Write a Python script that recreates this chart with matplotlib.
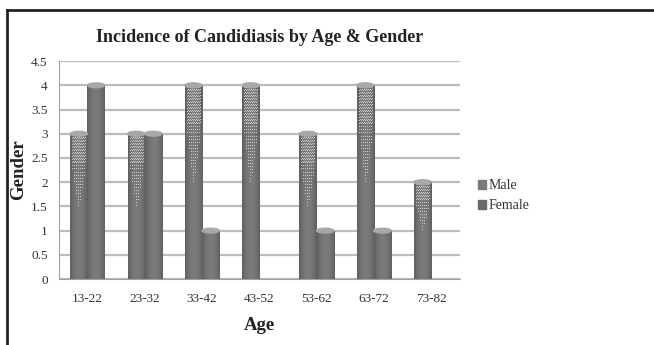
import numpy as np
import matplotlib
matplotlib.use('Agg')
import matplotlib.pyplot as plt
from matplotlib.lines import Line2D
from matplotlib.patches import Ellipse, Patch

plt.rcParams['font.family'] = ['Liberation Serif', 'DejaVu Serif']

age_groups = ['13-22', '23-32', '33-42', '43-52', '53-62', '63-72', '73-82']
male = [3, 3, 4, 4, 3, 4, 2]
female = [4, 3, 1, 0, 1, 1, 0]
series_names = ['Male', 'Female']
yticks = [0, 0.5, 1, 1.5, 2, 2.5, 3, 3.5, 4, 4.5]
ytick_labels = ['0', '0.5', '1', '1.5', '2', '2.5', '3', '3.5', '4', '4.5']

BAR_GRAY = '#707070'


def cylinder_image(dotted, nrows):
    # horizontal shading: darker edges, lighter middle
    xs = np.linspace(-1, 1, 18)
    shade = 0.38 + 0.10 * (1 - xs ** 2)
    img = np.repeat(shade[None, :], nrows, axis=0)
    img = np.stack([img, img, img, np.ones_like(img)], axis=-1)
    if dotted:
        ys = np.linspace(0, 1, nrows)[:, None]  # 0 = bottom, 1 = top
        reach = 0.55 + 0.4 * (1 - np.abs(xs[None, :]) * 1.6)
        area = ys > (1 - np.clip(reach, 0, 1) * 0.55)
        rr, cc = np.meshgrid(np.arange(nrows), np.arange(18), indexing='ij')
        dots = ((rr % 3 == 0) & (cc % 2 == 0)) | ((rr % 3 == 1) & (cc % 2 == 1) & (ys > 0.8))
        mask = area & dots & (np.abs(xs[None, :]) < 0.8)
        img[mask, :3] = 0.8
    return img[::-1]


fig = plt.figure(figsize=(6.54, 3.45), dpi=100)
ax = fig.add_axes([0.090, 0.191, 0.613, 0.632])

x = np.arange(len(age_groups))
w = 0.3
bars_m = ax.bar(x - w / 2, male, w, color=BAR_GRAY, label=series_names[0], zorder=3)
bars_f = ax.bar(x + w / 2, female, w, color='#686868', label=series_names[1], zorder=3)

for bars, dotted in [(bars_m, True), (bars_f, False)]:
    for b in bars:
        h = b.get_height()
        if h <= 0:
            continue
        x0 = b.get_x()
        bw = b.get_width()
        img = cylinder_image(dotted, max(int(h * 48), 4))
        im = ax.imshow(img, extent=[x0, x0 + bw, 0, h], aspect='auto',
                       interpolation='nearest', zorder=3.5)
        im.set_clip_path(b)
        ax.add_patch(Ellipse((x0 + bw / 2, h), bw, 0.1, color='#a8a8a8', zorder=4))

ax.set_xlim(-0.5, len(age_groups) - 0.5)
ax.set_ylim(0, 4.5)
ax.set_yticks(yticks)
ax.set_yticklabels(ytick_labels)
ax.set_xticks(x)
ax.set_xticklabels(age_groups)
ax.tick_params(length=0, labelsize=9.5, labelcolor='#333333')
ax.tick_params(axis='y', pad=8)
ax.tick_params(axis='x', pad=10)
ax.grid(axis='y', color='#bdbdbd', linewidth=1.6, zorder=0)
ax.set_axisbelow(True)
for side in ['top', 'right']:
    ax.spines[side].set_visible(False)
ax.spines['left'].set_color('#a0a0a0')
ax.spines['bottom'].set_color('#a0a0a0')

ax.set_title('Incidence of Candidiasis by Age & Gender', fontsize=13,
             fontweight='bold', color='#222222', pad=14)
ax.set_xlabel('Age', fontsize=13.5, fontweight='bold', color='#222222', labelpad=9)
ax.set_ylabel('Gender', fontsize=13.5, fontweight='bold', color='#222222')
ax.yaxis.set_label_coords(-0.078, 0.5)

handles = [Patch(color='#7a7a7a'), Patch(color='#6a6a6a')]
fig.legend(handles, series_names, loc='center left', bbox_to_anchor=(0.712, 0.432),
           frameon=False, fontsize=10, handlelength=0.6, handleheight=0.6,
           handletextpad=0.15, labelspacing=0.5, labelcolor='#333333')

# outer frame of the chart
fig.add_artist(Line2D([7 / 654, 1.0], [1 - 10 / 345] * 2, color='#222222', lw=2))
fig.add_artist(Line2D([7 / 654] * 2, [0, 1 - 10 / 345], color='#222222', lw=2))

fig.savefig('out.png', dpi=100)
